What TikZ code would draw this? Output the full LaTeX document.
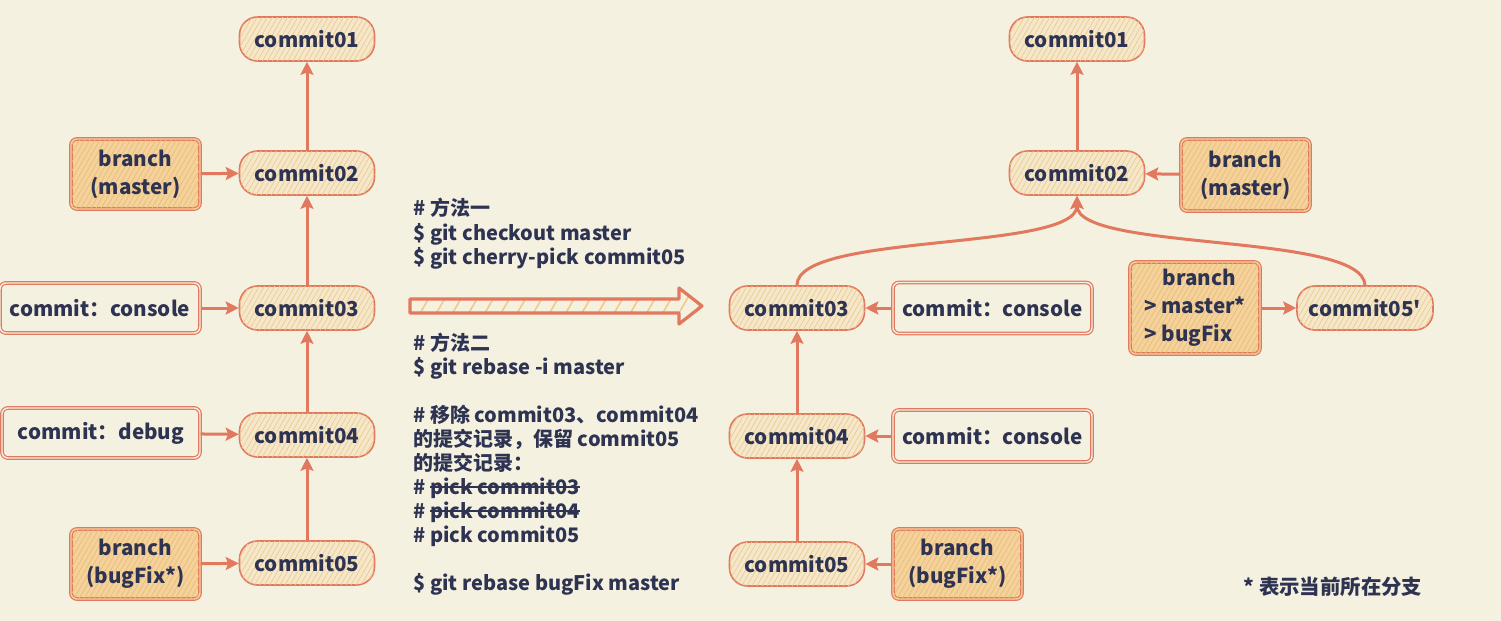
\documentclass[tikz,border=0pt]{standalone}
\usepackage{fontspec}
\setmainfont{Noto Sans CJK SC}
\usetikzlibrary{arrows.meta,patterns.meta}
\definecolor{bg}{HTML}{F4F1E0}
\definecolor{border}{HTML}{E2785E}
\definecolor{ink}{HTML}{2E3352}
\definecolor{bfill}{HTML}{F3D29B}
\definecolor{cfill}{HTML}{F4E8CC}
\definecolor{hatch}{HTML}{F2C98C}
\definecolor{bhatch}{HTML}{EDBB78}
\newcommand\mystrike[1]{\leavevmode\setbox0\hbox{#1}\rlap{\raisebox{0.32em}{\rule{\wd0}{0.7pt}}}\box0}
\newcommand\straightquote{{\addfontfeatures{Ligatures=TeXOff}'}}
\begin{document}
\begin{tikzpicture}[x=0.5pt,y=-0.5pt,
  every node/.style={text=ink, font=\bfseries\fontsize{10.3}{14}\selectfont, inner sep=0pt},
  commit/.style={draw=border, line width=0.8pt, rounded corners=9pt,
    minimum width=67.5pt, minimum height=22pt, fill=cfill,
    postaction={pattern={Lines[angle=60,distance=2.2pt,line width=0.35pt]}, pattern color=hatch}},
  branchbox/.style={draw=border, line width=0.6pt, double=bfill, double distance=0.7pt,
    rounded corners=3pt, minimum width=64.5pt, minimum height=35pt, fill=bfill, align=center,
    postaction={pattern={Lines[angle=60,distance=2.2pt,line width=0.35pt]}, pattern color=bhatch}},
  msgbox/.style={draw=border, line width=0.6pt, double=bg, double distance=0.7pt,
    rounded corners=3pt, minimum width=99.5pt, minimum height=25pt, fill=bg},
  conn/.style={draw=border, line width=1.5pt, -{Stealth[length=6.5pt,width=6.5pt,inset=1.2pt]}},
  cmd/.style={anchor=base west, font=\bfseries\fontsize{10}{12}\selectfont}
]
\fill[bg] (0,0) rectangle (1501,621);
\useasboundingbox (0,0) rectangle (1501,621);

% ---------- left graph ----------
\node[commit] (l1) at (307,39) {commit01};
\node[commit] (l2) at (307,173) {commit02};
\node[commit] (l3) at (307,308) {commit03};
\node[commit] (l4) at (307,435) {commit04};
\node[commit] (l5) at (307,563) {commit05};
\node[branchbox] (lbm) at (135.5,174) {branch\\(master)};
\node[msgbox, minimum width=100pt] (lmc) at (100,308) {commit：console};
\node[msgbox, minimum width=99pt] (lmd) at (101,433) {commit：debug};
\node[branchbox] (lbb) at (135.5,564) {branch\\(bugFix*)};

\draw[conn] (l2) -- (l1);
\draw[conn] (l3) -- (l2);
\draw[conn] (l4) -- (l3);
\draw[conn] (l5) -- (l4);
\draw[conn] (lbm) -- (l2);
\draw[conn] (lmc) -- (l3);
\draw[conn] (lmd) -- (l4);
\draw[conn] (lbb) -- (l5);

% ---------- middle commands ----------
\node[cmd] (t1) at (413,215) {\# 方法一};
\node[cmd] (t2) at (413,240) {\$ git checkout master};
\node[cmd] (t3) at (413,264) {\$ git cherry-pick commit05};
\node[cmd] (t4) at (413,350) {\# 方法二};
\node[cmd] (t5) at (413,374) {\$ git rebase -i master};
\node[cmd] (t6) at (413,422) {\# 移除 commit03、commit04};
\node[cmd] (t7) at (413,446) {的提交记录，保留 commit05};
\node[cmd] (t8) at (413,470) {的提交记录：};
\node[cmd] (t9) at (413,494) {\# \mystrike{pick commit03}};
\node[cmd] (t10) at (413,518) {\# \mystrike{pick commit04}};
\node[cmd] (t11) at (413,542) {\# pick commit05};
\node[cmd] (t12) at (413,590) {\$ git rebase bugFix master};

% big hollow arrow
\path[draw=border, line width=1.6pt, line join=round,
  pattern={Lines[angle=60,distance=7pt,line width=0.8pt]}, pattern color=hatch]
  (410,299) -- (679,299) -- (679,288) -- (702,306) -- (679,324) -- (679,313) -- (410,313) -- cycle;

% ---------- right graph ----------
\node[commit] (r1) at (1077,39) {commit01};
\node[commit] (r2) at (1077,173) {commit02};
\node[commit] (r3) at (797,308) {commit03};
\node[commit] (r4) at (797,436) {commit04};
\node[commit] (r5) at (797,564) {commit05};
\node[commit, minimum width=68pt] (r5p) at (1365,308) {commit05\straightquote};
\node[branchbox, minimum height=36pt] (rbm) at (1245.5,175) {branch\\(master)};
\node[msgbox, minimum height=25.5pt] (rmc1) at (992.5,308) {commit：console};
\node[msgbox, minimum height=26pt] (rmc2) at (992.5,436) {commit：console};
\node[branchbox] (rbb) at (957.5,564) {branch\\(bugFix*)};
\node[branchbox, minimum width=65pt, minimum height=46pt, align=left] (rbl) at (1195,308)
  {\hspace*{0.9em}branch\\> master*\\> bugFix};

\draw[conn] (r2) -- (r1);
\draw[conn] (r4) -- (r3);
\draw[conn] (r5) -- (r4);
\draw[conn] (rbm) -- (r2);
\draw[conn] (rmc1) -- (r3);
\draw[conn] (rmc2) -- (r4);
\draw[conn] (rbb) -- (r5);
\draw[conn] (rbl.east |- r5p.west) -- (r5p);
\draw[conn] (r3.north) .. controls (797,232) and (1077,252) .. (r2.south);
\draw[conn] (r5p.north) .. controls (1363,232) and (1077,252) .. (r2.south);

\node[font=\bfseries\fontsize{10.2}{12}\selectfont] (note) at (1333,587) {* 表示当前所在分支};
\end{tikzpicture}
\end{document}
